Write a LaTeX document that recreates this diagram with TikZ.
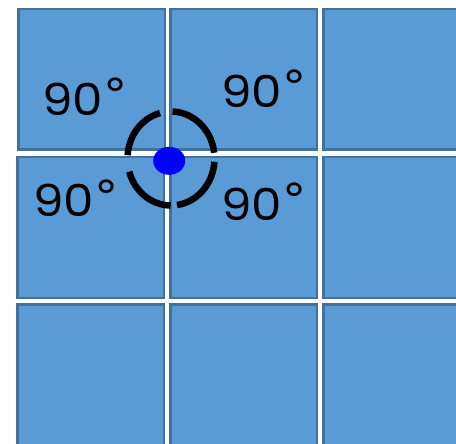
\documentclass[tikz,border=0pt]{standalone}
\usepackage{fontspec}
\setmainfont{Poppins}
\newfontfamily\degfont{DejaVu Sans}
\newcommand{\dgsign}{{\degfont\raisebox{5pt}{°}}}
\usetikzlibrary{shapes.geometric}
\definecolor{tilefill}{RGB}{91,155,213}
\definecolor{tileedge}{RGB}{65,113,156}
\definecolor{dotblue}{RGB}{0,0,255}
\begin{document}
\begin{tikzpicture}[x=1pt,y=-1pt,
  tile/.style={fill=tilefill,draw=tileedge,line width=2.5pt},
  anglabel/.style={anchor=base west,inner sep=0pt,xscale=1.1,font=\fontsize{44}{44}\selectfont},
  arcline/.style={line width=6.5pt,black}]
\useasboundingbox (0,0) rectangle (456,444);
\begin{scope}
\clip (0,0) rectangle (456,444);
% row 1
\draw[tile] (18.25,9.25) rectangle (164.75,149.75);
\draw[tile] (170.25,9.25) rectangle (316.75,149.75);
\draw[tile] (323.25,9.25) rectangle (470,149.75);
% row 2
\draw[tile] (17.25,157.25) rectangle (163.75,297.75);
\draw[tile] (170.25,157.25) rectangle (316.75,297.75);
\draw[tile] (323.25,157.25) rectangle (470,297.75);
% row 3
\draw[tile] (17.25,304.25) rectangle (163.75,460);
\draw[tile] (170.25,304.25) rectangle (316.75,460);
\draw[tile] (323.25,304.25) rectangle (470,460);
\end{scope}
\node[anglabel] (tl) at (42,116) {90\dgsign};
\node[anglabel] (tr) at (221,108) {90\dgsign};
\node[anglabel] (ml) at (33,217) {90\dgsign};
\node[anglabel] (mr) at (221,220) {90\dgsign};
\coordinate (c) at (171,158.5);
\draw[arcline] ([shift={(-7:43.5 and 47)}]c) arc[start angle=-7,end angle=-88,x radius=43.5,y radius=47];
\draw[arcline] ([shift={(-104.6:43.5 and 47)}]c) arc[start angle=-104.6,end angle=-176,x radius=43.5,y radius=47];
\draw[arcline] ([shift={(-196.3:43.5 and 47)}]c) arc[start angle=-196.3,end angle=-269.6,x radius=43.5,y radius=47];
\draw[arcline] ([shift={(-278:43.5 and 47)}]c) arc[start angle=-278,end angle=-356,x radius=43.5,y radius=47];
\node[fill=dotblue,ellipse,minimum width=32pt,minimum height=28pt,inner sep=0pt] (dot) at (169.2,160.8) {};
\end{tikzpicture}
\end{document}
